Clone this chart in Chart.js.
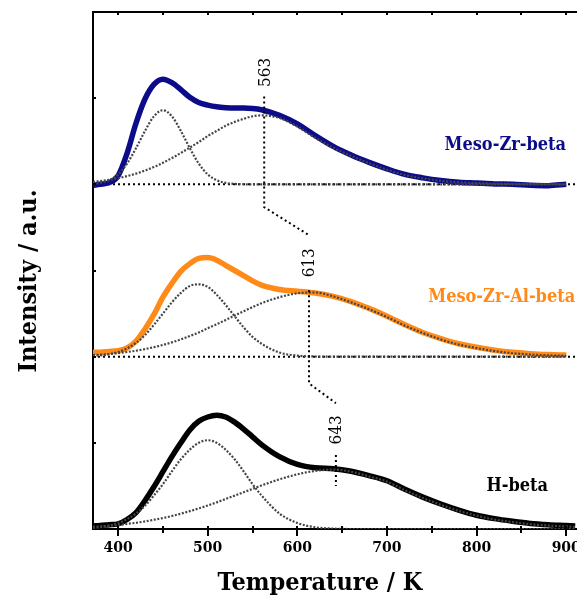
<!DOCTYPE html>
<html lang="en">
<head>
    <meta charset="UTF-8">
    <meta name="viewport" content="width=device-width, initial-scale=1.0">
    <script src="https://cdn.jsdelivr.net/npm/chart.js"></script>
    <title>NH3-TPD profiles</title>
    <style>
        body { margin: 0; background: #fff; }
        #wrap { position: relative; width: 577px; height: 596px; }
    </style>
</head>
<body>
<div id="wrap"><canvas id="tpdChart"></canvas></div>

<script>
// Temperature grid (K), shared by every trace
const temps = [372, 380, 390, 400, 410, 420, 430, 440, 450, 460, 470, 480, 490, 500, 510, 520, 530, 540, 550, 560,
               580, 600, 620, 640, 660, 680, 700, 720, 740, 760, 780, 800, 820, 840, 860, 880, 900, 910];

// H-beta: measured profile and the two fitted peaks
const hBeta = [0.035, 0.04, 0.05, 0.06, 0.11, 0.19, 0.33, 0.49, 0.665, 0.84, 1.00, 1.15, 1.25, 1.30, 1.32, 1.30, 1.24, 1.16, 1.07, 0.98,
               0.84, 0.75, 0.71, 0.70, 0.67, 0.62, 0.56, 0.46, 0.37, 0.29, 0.22, 0.16, 0.12, 0.09, 0.065, 0.05, 0.04, 0.035];
const hBetaLow = [0.012, 0.021, 0.039, 0.069, 0.115, 0.18, 0.27, 0.39, 0.52, 0.67, 0.81, 0.92, 1.00, 1.03, 1.00, 0.92, 0.81, 0.67, 0.52, 0.39,
                  0.18, 0.07, 0.02, 0.005, 0, 0, 0, 0, 0, 0, 0, 0, 0, 0, 0, 0, 0, 0];
const hBetaHigh = [0.026, 0.030, 0.038, 0.047, 0.059, 0.072, 0.088, 0.107, 0.127, 0.151, 0.178, 0.207, 0.239, 0.273, 0.309, 0.348, 0.387, 0.427, 0.466, 0.505,
                   0.576, 0.635, 0.674, 0.69, 0.665, 0.61, 0.55, 0.45, 0.36, 0.28, 0.21, 0.155, 0.11, 0.08, 0.055, 0.04, 0.03, 0.025];

// Meso-Zr-Al-beta
const zrAlBeta = [0.05, 0.05, 0.06, 0.07, 0.10, 0.18, 0.32, 0.49, 0.69, 0.85, 0.99, 1.08, 1.14, 1.15, 1.12, 1.06, 1.00, 0.94, 0.88, 0.83,
                  0.78, 0.76, 0.74, 0.70, 0.64, 0.56, 0.47, 0.37, 0.28, 0.21, 0.15, 0.11, 0.075, 0.05, 0.035, 0.025, 0.018, null];
const zrAlBetaLow = [0.008, 0.014, 0.028, 0.054, 0.097, 0.16, 0.25, 0.37, 0.50, 0.63, 0.74, 0.82, 0.84, 0.81, 0.72, 0.60, 0.47, 0.34, 0.23, 0.15,
                     0.048, 0.012, 0.002, 0, 0, 0, 0, 0, 0, 0, 0, 0, 0, 0, 0, 0, 0, null];
const zrAlBetaHigh = [0.019, 0.023, 0.031, 0.041, 0.054, 0.069, 0.088, 0.11, 0.136, 0.166, 0.20, 0.24, 0.28, 0.33, 0.376, 0.426, 0.477, 0.527, 0.575, 0.62,
                      0.69, 0.735, 0.745, 0.70, 0.63, 0.55, 0.46, 0.36, 0.275, 0.20, 0.14, 0.10, 0.065, 0.04, 0.025, 0.015, 0.01, null];

// Meso-Zr-beta
const zrBeta = [-0.01, 0.00, 0.02, 0.10, 0.36, 0.71, 0.99, 1.16, 1.22, 1.18, 1.10, 1.01, 0.95, 0.92, 0.90, 0.89, 0.885, 0.885, 0.88, 0.865,
                0.80, 0.70, 0.565, 0.44, 0.34, 0.255, 0.18, 0.115, 0.075, 0.045, 0.025, 0.015, 0.005, 0.0, -0.01, -0.015, 0.0, null];
const zrBetaLow = [0.008, 0.017, 0.048, 0.116, 0.24, 0.42, 0.62, 0.79, 0.86, 0.79, 0.62, 0.42, 0.24, 0.116, 0.048, 0.017, 0.005, 0.001, 0, 0,
                   0, 0, 0, 0, 0, 0, 0, 0, 0, 0, 0, 0, 0, 0, 0, 0, 0, null];
const zrBetaHigh = [0.03, 0.038, 0.053, 0.071, 0.095, 0.124, 0.16, 0.20, 0.25, 0.305, 0.364, 0.427, 0.49, 0.56, 0.62, 0.68, 0.725, 0.76, 0.79, 0.80,
                    0.77, 0.67, 0.54, 0.425, 0.33, 0.245, 0.17, 0.108, 0.07, 0.04, 0.025, 0.015, 0.008, 0.004, 0.002, 0.001, 0, null];

// high-temperature peak maxima (K) and vertical offsets of the stacked traces
const peakTemps = [563, 613, 643];
const offsets = [4, 2, 0];          // Meso-Zr-beta, Meso-Zr-Al-beta, H-beta
const sampleNames = ['Meso-Zr-beta', 'Meso-Zr-Al-beta', 'H-beta'];
const sampleColors = ['#0c0c8a', '#ff8a18', '#000000'];

const xTicks = [400, 450, 500, 550, 600, 650, 700, 750, 800, 850, 900];
const yTicks = [1, 2, 3, 4, 5];
const xMin = 372, xMax = 912;

function toPoints(values, offset) {
    return temps.map((t, i) => ({ x: t, y: values[i] === null ? null : values[i] + offset }));
}

function totalSet(values, offset, color) {
    return { data: toPoints(values, offset), borderColor: color, borderWidth: 5.5,
             pointRadius: 0, cubicInterpolationMode: 'monotone', order: 3 };
}

function fitSet(values, offset) {
    return { data: toPoints(values, offset), borderColor: '#454545', borderWidth: 2.2, borderDash: [2, 1.6],
             pointRadius: 0, cubicInterpolationMode: 'monotone', order: 2 };
}

function dottedSet(points) {
    return { data: points, borderColor: '#000', borderWidth: 2, borderDash: [2, 3],
             pointRadius: 0, tension: 0, order: 1 };
}

// dotted guide joining the high-temperature maxima from trace to trace
const guides = [
    [{ x: peakTemps[0], y: offsets[0] + 1.02 }, { x: peakTemps[0], y: offsets[0] - 0.265 }, { x: peakTemps[1], y: offsets[0] - 0.59 }],
    [{ x: peakTemps[1], y: offsets[1] + 0.77 }, { x: peakTemps[1], y: offsets[1] - 0.31 }, { x: peakTemps[2], y: offsets[1] - 0.54 }],
    [{ x: peakTemps[2], y: offsets[2] + 0.86 }, { x: peakTemps[2], y: offsets[2] + 0.50 }]
];

const datasets = [
    totalSet(zrBeta, offsets[0], sampleColors[0]),
    fitSet(zrBetaLow, offsets[0]),
    fitSet(zrBetaHigh, offsets[0]),
    totalSet(zrAlBeta, offsets[1], sampleColors[1]),
    fitSet(zrAlBetaLow, offsets[1]),
    fitSet(zrAlBetaHigh, offsets[1]),
    totalSet(hBeta, offsets[2], sampleColors[2]),
    fitSet(hBetaLow, offsets[2]),
    fitSet(hBetaHigh, offsets[2]),
    // zero lines of the two upper traces
    Object.assign(dottedSet([{ x: xMin, y: offsets[0] }, { x: xMax, y: offsets[0] }]), { order: 4 }),
    Object.assign(dottedSet([{ x: xMin, y: offsets[1] }, { x: xMax, y: offsets[1] }]), { order: 4 }),
    ...guides.map(dottedSet)
];

// where the trace names and peak temperatures are written (data units)
const nameSpots = [{ t: 832, v: 4.455, align: 'center' }, { t: 746, v: 2.69, align: 'left' }, { t: 811, v: 0.50, align: 'left' }];
const peakLabelSpots = [5.30, 3.09, 1.15];

const SERIF = '"DejaVu Serif Condensed", "DejaVu Serif", serif';

const decorations = {
    id: 'decorations',
    afterDraw(chart) {
        const { ctx, chartArea: area, scales: { x, y } } = chart;
        ctx.save();
        ctx.strokeStyle = '#000';
        ctx.lineWidth = 2;

        // frame top
        ctx.beginPath();
        ctx.moveTo(area.left, area.top);
        ctx.lineTo(area.right, area.top);
        ctx.stroke();

        // tick marks on bottom and top
        ctx.beginPath();
        xTicks.forEach(v => {
            const px = Math.round(x.getPixelForValue(v));
            const major = v % 100 === 0;
            ctx.moveTo(px, area.bottom - 3);
            ctx.lineTo(px, area.bottom + (major ? 7 : 4));
            ctx.moveTo(px, area.top);
            ctx.lineTo(px, area.top + 3);
        });
        yTicks.forEach(v => {
            const py = Math.round(y.getPixelForValue(v));
            ctx.moveTo(area.left, py);
            ctx.lineTo(area.left + 3, py);
        });
        ctx.stroke();

        // axis titles
        ctx.fillStyle = '#000';
        ctx.textAlign = 'center';
        ctx.textBaseline = 'middle';
        ctx.font = 'bold 25px ' + SERIF;
        ctx.fillText('Temperature / K', 320, 583);
        ctx.save();
        ctx.translate(29, 281);
        ctx.rotate(-Math.PI / 2);
        ctx.fillText('Intensity / a.u.', 0, 0);
        ctx.restore();

        // trace names
        ctx.font = 'bold 18px ' + SERIF;
        sampleNames.forEach((name, i) => {
            const s = nameSpots[i];
            ctx.fillStyle = sampleColors[i];
            ctx.textAlign = s.align;
            ctx.fillText(name, x.getPixelForValue(s.t), y.getPixelForValue(s.v));
        });

        // peak temperatures, written upright along the guides
        ctx.fillStyle = '#000';
        ctx.textAlign = 'center';
        ctx.font = '17px ' + SERIF;
        peakTemps.forEach((t, i) => {
            ctx.save();
            ctx.translate(x.getPixelForValue(t) + 1, y.getPixelForValue(peakLabelSpots[i]));
            ctx.rotate(-Math.PI / 2);
            ctx.fillText(String(t), 0, 0);
            ctx.restore();
        });
        ctx.restore();
    }
};

const canvas = document.getElementById('tpdChart');
const tpdChart = new Chart(canvas.getContext('2d'), {
    type: 'line',
    data: { datasets: datasets },
    options: {
        responsive: true,
        maintainAspectRatio: false,
        animation: false,
        layout: { padding: { top: 12, right: 0, bottom: 0, left: 0 } },
        plugins: { legend: { display: false }, tooltip: { enabled: false } },
        scales: {
            x: {
                type: 'linear',
                min: xMin,
                max: xMax,
                afterBuildTicks: s => { s.ticks = xTicks.map(v => ({ value: v })); },
                afterFit: s => { s.height = 67; s.paddingLeft = 0; s.paddingRight = 0; },
                ticks: {
                    autoSkip: false,
                    maxRotation: 0,
                    padding: 11,
                    color: '#000',
                    font: { family: 'DejaVu Serif', weight: 'bold', size: 14 },
                    callback: v => (v % 100 === 0 ? String(v) : '')
                },
                grid: { drawOnChartArea: false, drawTicks: false },
                border: { display: true, color: '#000', width: 2 }
            },
            y: {
                min: 0,
                max: 6,
                afterFit: s => { s.width = 93; },
                ticks: { display: false },
                grid: { display: false },
                border: { display: true, color: '#000', width: 2 }
            }
        }
    },
    plugins: [decorations]
});
</script>
</body>
</html>
